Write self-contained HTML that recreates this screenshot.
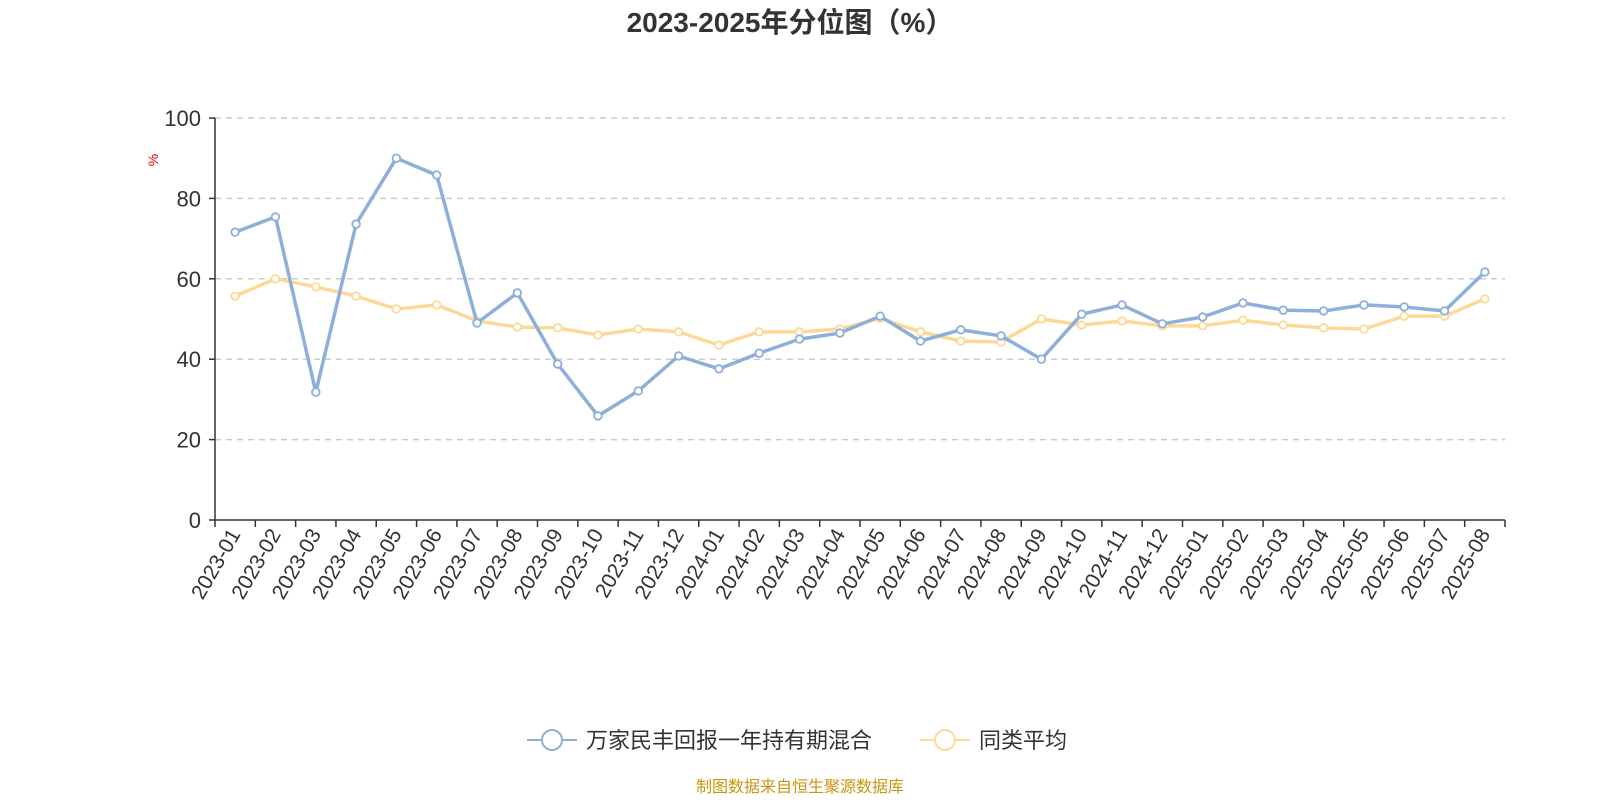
<!DOCTYPE html>
<html><head><meta charset="utf-8"><style>
html,body{margin:0;padding:0;background:#fff;}
svg{display:block;font-family:"Liberation Sans","Noto Sans CJK SC",sans-serif;}
</style></head><body>
<svg id="chart" width="1600" height="800" viewBox="0 0 1600 800">
<text x="790" y="32" text-anchor="middle" font-size="28" font-weight="bold" fill="#333">2023-2025年分位图（%）</text>
<text x="0" y="0" transform="translate(158,160) rotate(-90)" text-anchor="middle" font-size="14" fill="#e00">%</text>
<g id="grid"></g><g id="axes"></g><g id="series"></g>
<g>
<g>
<line x1="527" y1="740" x2="577" y2="740" stroke="#8eafda" stroke-width="2"/>
<circle cx="552" cy="740" r="10" fill="#fff" stroke="#8eafda" stroke-width="2"/>
<text x="586" y="748" font-size="22" fill="#333">万家民丰回报一年持有期混合</text></g>
<g>
<line x1="920" y1="740" x2="970" y2="740" stroke="#fdd998" stroke-width="2"/>
<circle cx="945" cy="740" r="10" fill="#fff" stroke="#fdd998" stroke-width="2"/>
<text x="979" y="748" font-size="22" fill="#333">同类平均</text></g>
</g>
<text x="800" y="792" text-anchor="middle" font-size="16" fill="#c8960c">制图数据来自恒生聚源数据库</text>
</svg>
<script>
const categories=["2023-01","2023-02","2023-03","2023-04","2023-05","2023-06","2023-07","2023-08","2023-09","2023-10","2023-11","2023-12","2024-01","2024-02","2024-03","2024-04","2024-05","2024-06","2024-07","2024-08","2024-09","2024-10","2024-11","2024-12","2025-01","2025-02","2025-03","2025-04","2025-05","2025-06","2025-07","2025-08"];
const fundValues=[71.6,75.4,31.8,73.6,90,85.8,49,56.5,38.8,25.9,32.1,40.8,37.6,41.5,45,46.5,50.7,44.5,47.3,45.8,40,51.2,53.5,48.8,50.5,54,52.2,52,53.5,53,52,61.7];
const avgValues=[55.7,60,58,55.7,52.5,53.5,49.5,48,47.8,46,47.5,46.8,43.5,46.8,46.8,47.5,50.2,46.8,44.5,44.3,50,48.5,49.5,48.3,48.3,49.7,48.5,47.8,47.5,50.7,50.7,55];
const yTicks=[0,20,40,60,80,100];
const NS="http://www.w3.org/2000/svg";
const X0=215,X1=1505,Y0=520,Y1=118;
const bw=(X1-X0)/categories.length;
const xBand=i=>X0+bw*i;
const xPos=i=>X0+bw*(i+0.5);
const yPos=v=>Y0-(v/100)*(Y0-Y1);
function mk(tag,attrs,parent){const e=document.createElementNS(NS,tag);for(const k in attrs)e.setAttribute(k,attrs[k]);parent.appendChild(e);return e;}
const grid=document.getElementById('grid'),axes=document.getElementById('axes'),series=document.getElementById('series');
yTicks.forEach(t=>{
  const y=yPos(t);
  if(t>0){const g=mk('line',{x1:X0,x2:X1,y1:y,y2:y,stroke:'#ccc','stroke-width':1.5,'stroke-dasharray':'6,5'},grid);
  
  }
  const tk=mk('line',{x1:X0-6,x2:X0,y1:y,y2:y,stroke:'#333','stroke-width':1.5},axes);
  
  
  const tx=mk('text',{x:X0-14,y:y+8,'text-anchor':'end','font-size':22,fill:'#333'},axes);
  tx.textContent=t;
  
  
});
const ya=mk('line',{x1:X0,x2:X0,y1:Y1,y2:Y0,stroke:'#333','stroke-width':1.5},axes);


const xa=mk('line',{x1:X0,x2:X1,y1:Y0,y2:Y0,stroke:'#333','stroke-width':1.5},axes);


for(let i=0;i<=categories.length;i++){
  const tk=mk('line',{x1:xBand(i),x2:xBand(i),y1:Y0,y2:Y0+7,stroke:'#333','stroke-width':1.5},axes);
  
  
}
categories.forEach((c,i)=>{
  const x=xPos(i)+6,y=Y0+14;
  const tx=mk('text',{x:x,y:y,'text-anchor':'end','font-size':21,fill:'#333',transform:`rotate(-60 ${x} ${y})`},axes);
  tx.textContent=c;
  
  
});
function drawSeries(vals,color,name){
  const pts=vals.map((v,i)=>xPos(i)+','+yPos(v)).join(' ');
  const pl=mk('polyline',{points:pts,fill:'none',stroke:color,'stroke-width':3.5,'stroke-linejoin':'round'},series);
  
  
  vals.forEach((v,i)=>{
    const c=mk('circle',{cx:xPos(i),cy:yPos(v),r:3.8,fill:'#fff',stroke:color,'stroke-width':1.8},series);
    
    
  });
}
drawSeries(avgValues,'#fdd998','average');
drawSeries(fundValues,'#8eafda','fund');
</script>
</body></html>
